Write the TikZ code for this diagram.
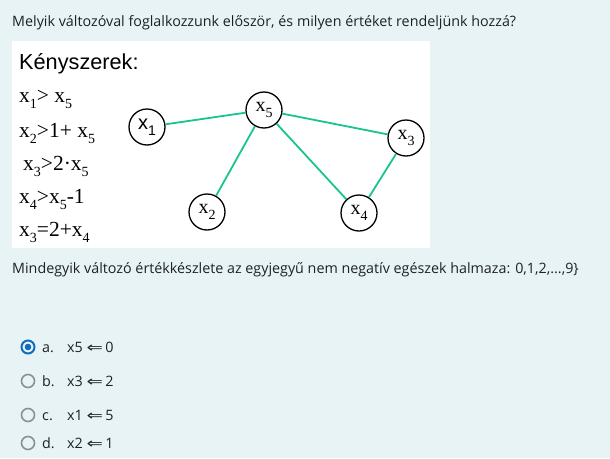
\documentclass[tikz,border=0pt]{standalone}
\usepackage{fontspec}
\setmainfont{Open Sans}
\newfontfamily\arialf{Liberation Sans}
\newfontfamily\tnrf{Liberation Serif}
\newfontfamily\dvf{DejaVu Sans}
\definecolor{bg}{RGB}{232,243,246}
\definecolor{edgegreen}{RGB}{24,196,146}
\definecolor{radioblue}{RGB}{15,108,191}
\definecolor{radiogray}{RGB}{140,145,152}
\definecolor{txt}{RGB}{29,33,37}
\newcommand\sbs[1]{\raisebox{-0.3em}{\fontsize{14}{14}\selectfont #1}}
\newcommand\larr{{\dvf\fontsize{13.5}{15}\selectfont\scalebox{1.45}[1.05]{⇐}}}
\begin{document}
\begin{tikzpicture}[x=1pt,y=-1pt,
  uitext/.style={anchor=base west, text=txt, inner sep=0pt, font=\fontsize{14.3}{17}\selectfont},
  constr/.style={anchor=base west, inner sep=0pt, font=\tnrf\fontsize{21.5}{24}\selectfont},
  var/.style={circle, draw=black, line width=1.3pt, minimum size=36pt, inner sep=0pt, fill=white, font=\tnrf\fontsize{20}{22}\selectfont},
  link/.style={draw=edgegreen, line width=1.8pt},
  radioon/.style={circle, draw=radioblue, line width=2pt, minimum size=13pt, inner sep=0pt},
  radiooff/.style={circle, draw=radiogray, line width=1.6pt, minimum size=13pt, inner sep=0pt},
  opt/.style={anchor=base west, text=txt, inner sep=0pt, font=\fontsize{14.3}{17}\selectfont}
]
\fill[bg] (0,0) rectangle (610,458);
\useasboundingbox (0,0) rectangle (610,458);
\fill[white] (12,41) rectangle (430,248);

\node[uitext] (title) at (12,26) {Melyik változóval foglalkozzunk először, és milyen értéket rendeljünk hozzá?};

\node[anchor=base west, inner sep=0pt, font=\arialf\fontsize{21.7}{24}\selectfont] (head) at (19,69) {Kényszerek:};
\node[constr] (c1) at (19,102) {x\sbs{1}> x\sbs{5}};
\node[constr] (c2) at (19,137) {x\sbs{2}>1+ x\sbs{5}};
\node[constr] (c3) at (23,170) {x\sbs{3}>2·x\sbs{5}};
\node[constr] (c4) at (19,203) {x\sbs{4}>x\sbs{5}-1};
\node[constr] (c5) at (19,236) {x\sbs{3}=2+x\sbs{4}};

\node[var, font=\arialf\fontsize{20}{22}\selectfont] (x1) at (147,127) {x\raisebox{-0.3em}{\fontsize{14}{14}\selectfont 1}};
\node[var] (x5) at (264,110) {\raisebox{0.15em}{x\sbs{5}}};
\node[var] (x3) at (406,138) {x\sbs{3}};
\node[var] (x2) at (207,212) {x\sbs{2}};
\node[var] (x4) at (359,213) {x\sbs{4}};

\draw[link] (x1) -- (x5);
\draw[link] (x5) -- (x2);
\draw[link] (x5) -- (x4);
\draw[link] (x5) -- (x3);
\draw[link] (x3) -- (x4);

\node[uitext] (info) at (12,273) {Mindegyik változó értékkészlete az egyjegyű nem negatív egészek halmaza: 0,1,2,...,9\}};

\node[radioon] (ra) at (28,347) {};
\fill[radioblue] (ra.center) circle (3.3pt);
\node[radiooff] (rb) at (28,381) {};
\node[radiooff] (rc) at (28,415) {};
\node[radiooff] (rd) at (28,443) {};

\node[opt] (la) at (42,352) {a.};
\node[opt] (lb) at (42,386) {b.};
\node[opt] (lc) at (42,420) {c.};
\node[opt] (ld) at (42,448) {d.};
\node[opt] (va) at (67,352) {x5 \larr\,0};
\node[opt] (vb) at (67,386) {x3 \larr\,2};
\node[opt] (vc) at (67,420) {x1 \larr\,5};
\node[opt] (vd) at (67,448) {x2 \larr\,1};
\end{tikzpicture}
\end{document}
